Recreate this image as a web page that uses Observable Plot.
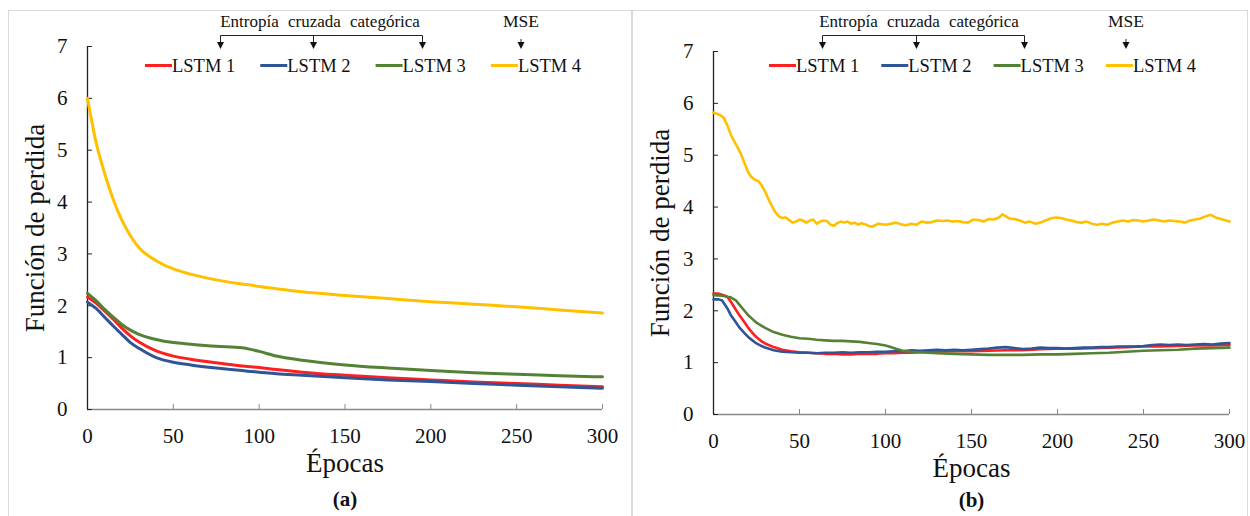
<!DOCTYPE html>
<html><head><meta charset="utf-8">
<script src="https://cdn.jsdelivr.net/npm/d3@7"></script>
<script src="https://cdn.jsdelivr.net/npm/@observablehq/plot@0.6"></script>
<style>
html,body{margin:0;padding:0;background:#fff;}
#root{position:relative;width:1250px;height:516px;overflow:hidden;font-family:"Liberation Serif","Times New Roman",serif;color:#111;}
.panel{position:absolute;border:1px solid #dadada;box-sizing:border-box;}
.plot{position:absolute;top:0;}
#overlay{position:absolute;left:0;top:0;}
</style></head><body><div id="root"></div>
<script>
// ---------- data ----------
const seriesNames = ["LSTM 1", "LSTM 2", "LSTM 3", "LSTM 4"];
const seriesColors = ["#ff1f1f", "#2f5597", "#548235", "#ffc000"];
const lossGroupCE = "Entropía cruzada categórica";
const lossGroupMSE = "MSE";
const panelLabels = ["(a)", "(b)"];
const xTitle = "Épocas";
const yTitle = "Función de perdida";
const xTicks = [0, 50, 100, 150, 200, 250, 300];
const yTicks = [0, 1, 2, 3, 4, 5, 6, 7];

// panel (a)
const epochsA = [0, 5, 10, 15, 20, 25, 30, 40, 50, 60, 75, 90, 95, 100, 110, 125, 150, 175, 200, 225, 250, 275, 300];
const lossA1 = [2.17, 2.05, 1.90, 1.74, 1.57, 1.42, 1.30, 1.13, 1.03, 0.97, 0.90, 0.84, 0.825, 0.81, 0.77, 0.72, 0.66, 0.61, 0.57, 0.53, 0.50, 0.47, 0.44];
const lossA2 = [2.07, 1.95, 1.78, 1.61, 1.45, 1.29, 1.18, 1.00, 0.91, 0.86, 0.80, 0.75, 0.735, 0.72, 0.69, 0.66, 0.61, 0.57, 0.54, 0.50, 0.47, 0.44, 0.41];
const lossA3 = [2.24, 2.10, 1.93, 1.78, 1.64, 1.53, 1.45, 1.35, 1.29, 1.26, 1.22, 1.19, 1.16, 1.12, 1.03, 0.95, 0.86, 0.80, 0.75, 0.71, 0.68, 0.65, 0.63];
const lossA4 = [6.00, 5.15, 4.55, 4.05, 3.65, 3.35, 3.12, 2.87, 2.71, 2.61, 2.50, 2.42, 2.40, 2.37, 2.33, 2.27, 2.20, 2.14, 2.08, 2.03, 1.98, 1.92, 1.86];

// panel (b)
const epochsB1 = [0, 3, 5, 8, 10, 13, 15, 18, 20, 23, 25, 28, 30, 35, 40, 45, 50, 55, 60, 65, 70, 75, 80, 85, 90, 95, 100, 105, 110, 115, 120, 125, 130, 140, 150, 160, 170, 180, 190, 200, 210, 220, 230, 240, 250, 260, 270, 280, 290, 300];
const lossB1 = [2.33, 2.33, 2.31, 2.27, 2.18, 2.02, 1.92, 1.78, 1.68, 1.56, 1.49, 1.41, 1.37, 1.30, 1.25, 1.22, 1.20, 1.19, 1.18, 1.17, 1.17, 1.16, 1.16, 1.17, 1.17, 1.17, 1.18, 1.18, 1.19, 1.19, 1.20, 1.21, 1.21, 1.22, 1.22, 1.23, 1.24, 1.24, 1.26, 1.27, 1.27, 1.28, 1.29, 1.30, 1.31, 1.31, 1.32, 1.33, 1.33, 1.34];
const epochsB2 = [0, 3, 5, 8, 10, 13, 15, 18, 20, 23, 25, 28, 30, 35, 40, 45, 50, 55, 60, 65, 70, 75, 80, 85, 90, 95, 100, 105, 110, 115, 120, 125, 130, 135, 140, 145, 150, 155, 160, 165, 170, 175, 180, 185, 190, 195, 200, 205, 210, 215, 220, 225, 230, 235, 240, 245, 250, 255, 260, 265, 270, 275, 280, 285, 290, 295, 300];
const lossB2 = [2.22, 2.22, 2.20, 2.05, 1.92, 1.78, 1.68, 1.57, 1.50, 1.42, 1.37, 1.32, 1.29, 1.24, 1.21, 1.20, 1.19, 1.19, 1.18, 1.19, 1.19, 1.20, 1.19, 1.20, 1.20, 1.21, 1.21, 1.22, 1.22, 1.24, 1.23, 1.24, 1.25, 1.24, 1.25, 1.24, 1.25, 1.26, 1.27, 1.29, 1.30, 1.28, 1.26, 1.27, 1.29, 1.28, 1.28, 1.27, 1.28, 1.29, 1.29, 1.30, 1.30, 1.31, 1.31, 1.31, 1.32, 1.34, 1.35, 1.34, 1.35, 1.34, 1.35, 1.36, 1.35, 1.37, 1.38];
const epochsB3 = [0, 5, 8, 10, 13, 15, 18, 20, 23, 25, 28, 30, 35, 40, 45, 50, 55, 60, 65, 70, 75, 80, 85, 90, 95, 100, 103, 106, 110, 115, 120, 125, 130, 140, 150, 160, 170, 180, 190, 200, 210, 220, 230, 240, 250, 260, 270, 280, 290, 300];
const lossB3 = [2.30, 2.29, 2.27, 2.26, 2.20, 2.12, 2.00, 1.92, 1.83, 1.77, 1.71, 1.67, 1.59, 1.54, 1.50, 1.47, 1.46, 1.44, 1.43, 1.42, 1.42, 1.41, 1.40, 1.38, 1.36, 1.33, 1.30, 1.27, 1.23, 1.21, 1.20, 1.19, 1.18, 1.17, 1.16, 1.15, 1.15, 1.15, 1.16, 1.16, 1.17, 1.18, 1.19, 1.21, 1.23, 1.24, 1.25, 1.27, 1.28, 1.29];
const epochsB4 = [0, 2, 4, 6, 8, 10, 12, 14, 16, 18, 20, 22, 24, 26, 28, 30, 32, 34, 36, 38, 40, 42, 44, 46, 48, 50, 52, 54, 56, 58, 60, 62, 64, 66, 68, 70, 72, 74, 76, 78, 80, 82, 84, 86, 88, 90, 92, 94, 96, 98, 100, 103, 106, 109, 112, 115, 118, 121, 124, 127, 130, 133, 136, 139, 142, 145, 148, 151, 154, 157, 160, 163, 166, 168, 170, 172, 175, 178, 181, 184, 187, 190, 193, 196, 199, 202, 205, 208, 211, 214, 217, 220, 223, 226, 229, 232, 235, 238, 241, 244, 247, 250, 253, 256, 259, 262, 265, 268, 271, 274, 277, 280, 283, 286, 289, 292, 295, 298, 300];
const lossB4 = [5.82, 5.80, 5.77, 5.72, 5.58, 5.40, 5.27, 5.15, 5.02, 4.85, 4.68, 4.58, 4.53, 4.50, 4.42, 4.30, 4.15, 4.02, 3.90, 3.82, 3.79, 3.80, 3.75, 3.70, 3.72, 3.76, 3.74, 3.70, 3.74, 3.76, 3.68, 3.72, 3.74, 3.73, 3.66, 3.64, 3.69, 3.72, 3.70, 3.72, 3.68, 3.70, 3.66, 3.69, 3.67, 3.64, 3.62, 3.65, 3.68, 3.67, 3.66, 3.68, 3.70, 3.67, 3.65, 3.68, 3.66, 3.72, 3.70, 3.71, 3.74, 3.73, 3.74, 3.72, 3.73, 3.71, 3.70, 3.76, 3.75, 3.72, 3.77, 3.76, 3.80, 3.86, 3.82, 3.78, 3.77, 3.74, 3.70, 3.72, 3.68, 3.70, 3.74, 3.78, 3.80, 3.79, 3.76, 3.74, 3.71, 3.70, 3.72, 3.68, 3.66, 3.68, 3.66, 3.70, 3.72, 3.74, 3.72, 3.75, 3.74, 3.72, 3.74, 3.76, 3.74, 3.72, 3.74, 3.73, 3.72, 3.70, 3.74, 3.76, 3.78, 3.82, 3.85, 3.80, 3.77, 3.74, 3.72];

// ---------- build ----------
function rowsFor(list) {
  const rows = [];
  list.forEach(([epochs, vals], s) => epochs.forEach((e, i) => rows.push({epoch: e, loss: vals[i], series: seriesNames[s]})));
  return rows;
}
const rowsA = rowsFor([[epochsA, lossA1], [epochsA, lossA2], [epochsA, lossA3], [epochsA, lossA4]]);
const rowsB = rowsFor([[epochsB1, lossB1], [epochsB2, lossB2], [epochsB3, lossB3], [epochsB4, lossB4]]);

const root = document.getElementById("root");
function addPanel(left, top, width, height) {
  const d = document.createElement("div");
  d.className = "panel";
  Object.assign(d.style, {left: left + "px", top: top + "px", width: width + "px", height: height + "px"});
  root.appendChild(d);
}
addPanel(8, 10, 624, 530);
addPanel(632, 10, 616, 530);

function makePlot(rows, cfg) {
  return Plot.plot({
    width: cfg.width, height: 516,
    marginLeft: cfg.ml, marginRight: cfg.mr, marginTop: cfg.mt, marginBottom: 516 - cfg.y0,
    x: {domain: [0, 300]},
    y: {domain: [0, 7]},
    color: {domain: seriesNames, range: seriesColors},
    style: {fontFamily: '"Liberation Serif", "Times New Roman", serif', fontSize: "21px", color: "#111", background: "transparent", overflow: "visible"},
    marks: [
      Plot.ruleY([0], {stroke: "#8a8a8a", strokeWidth: 1.3}),
      Plot.axisX({ticks: xTicks, tickSize: -5, tickPadding: 24, tickFormat: d => String(d), stroke: "#8a8a8a", fill: "#111", label: null, fontSize: 21}),
      Plot.ruleX([0], {stroke: "#222", strokeWidth: 1.3}),
      Plot.axisY({ticks: yTicks, tickSize: -5, tickPadding: 25, tickFormat: d => String(d), stroke: "#222", fill: "#111", label: null, fontSize: 21}),
      Plot.line(rows, {x: "epoch", y: "loss", z: "series", stroke: "series", strokeWidth: cfg.sw, curve: cfg.curve}),
      Plot.text([yTitle], {text: d => d, frameAnchor: "left", dx: cfg.yTitleDx, rotate: -90, textAnchor: "middle", lineAnchor: "middle", fontSize: 27, fill: "#111"}),
      Plot.text([xTitle], {text: d => d, frameAnchor: "bottom", dy: 54, textAnchor: "middle", lineAnchor: "middle", fontSize: 27, fill: "#111"}),
      Plot.text([cfg.label], {text: d => d, frameAnchor: "bottom", dy: cfg.labelDy, textAnchor: "middle", lineAnchor: "middle", fontSize: 21, fontWeight: "bold", fill: "#111"})
    ]
  });
}

const plotA = makePlot(rowsA, {width: 631, ml: 87, mr: 29, mt: 46, y0: 409, sw: 3, curve: "monotone-x", label: panelLabels[0], labelDy: 90, yTitleDx: -52});
plotA.classList.add("plot"); plotA.style.left = "0px";
root.appendChild(plotA);
const plotB = makePlot(rowsB, {width: 624, ml: 87, mr: 21, mt: 51, y0: 414, sw: 2.6, curve: "linear", label: panelLabels[1], labelDy: 86, yTitleDx: -53});
plotB.classList.add("plot"); plotB.style.left = "626px";
root.appendChild(plotB);

// ---------- legend + loss-group annotation overlay ----------
const svg = d3.select(root).append("svg").attr("id", "overlay").attr("width", 1250).attr("height", 516)
  .style("font-family", '"Liberation Serif", "Times New Roman", serif');

function annotate(cfg) {
  const g = svg.append("g").attr("fill", "#111");
  seriesNames.forEach((name, i) => {
    const x = cfg.legendX + i * cfg.legendStep;
    g.append("line").attr("x1", x).attr("x2", x + 27).attr("y1", 65.5).attr("y2", 65.5)
      .attr("stroke", seriesColors[i]).attr("stroke-width", 3);
    g.append("text").attr("x", x + 27).attr("y", 71.5).attr("font-size", 18.5).text(name);
  });
  g.append("text").attr("x", cfg.ceCenter).attr("y", 27).attr("text-anchor", "middle")
    .attr("font-size", 17).attr("word-spacing", 5).text(lossGroupCE);
  g.append("text").attr("x", cfg.mse).attr("y", 27).attr("text-anchor", "middle")
    .attr("font-size", 17.5).text(lossGroupMSE);
  const ce = cfg.ceArrows;
  g.append("line").attr("x1", ce[0]).attr("x2", ce[ce.length - 1]).attr("y1", 35.5).attr("y2", 35.5)
    .attr("stroke", "#222").attr("stroke-width", 1);
  const arrow = (x, y1) => {
    g.append("line").attr("x1", x).attr("x2", x).attr("y1", y1).attr("y2", 44).attr("stroke", "#222").attr("stroke-width", 1);
    g.append("path").attr("d", `M${x - 3.5},42L${x + 3.5},42L${x},49Z`).attr("fill", "#111");
  };
  ce.forEach(x => arrow(x, 35.5));
  arrow(cfg.mse, 39);
}
annotate({legendX: 145, legendStep: 115.3, ceCenter: 320, ceArrows: [220.5, 313.5, 422.5], mse: 521});
annotate({legendX: 769, legendStep: 112.3, ceCenter: 919, ceArrows: [822.5, 916.5, 1024.5], mse: 1126});
</script></body></html>
